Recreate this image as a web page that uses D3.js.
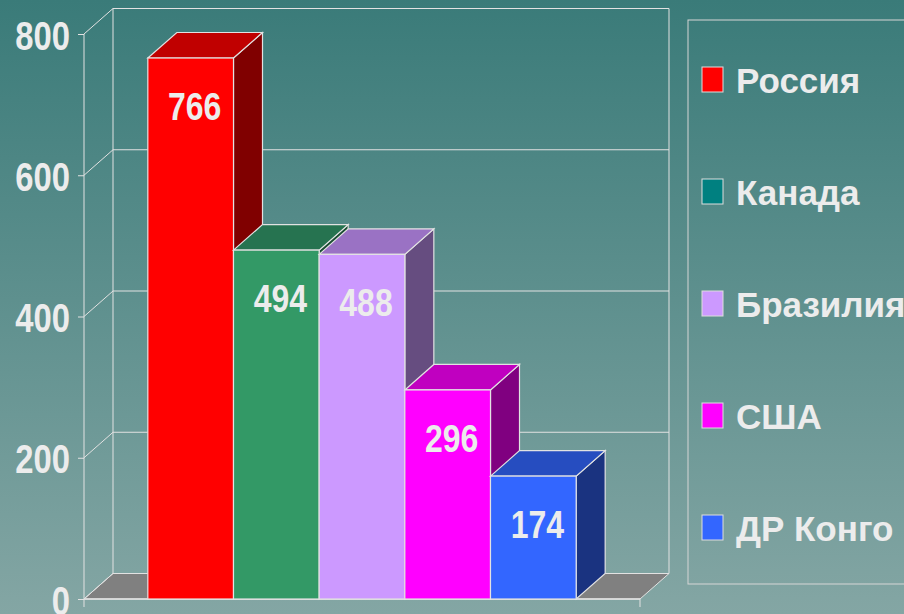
<!DOCTYPE html>
<html>
<head>
<meta charset="utf-8">
<script src="https://cdn.jsdelivr.net/npm/d3@7"></script>
<style>
  body { margin: 0; overflow: hidden; }
  svg { display: block; }
  text { font-family: "Liberation Sans", Arial, sans-serif; font-weight: bold; fill: #ececec; }
</style>
</head>
<body>
<svg id="chart" width="904" height="614"></svg>
<script>
// data
var countries = ["Россия", "Канада", "Бразилия", "США", "ДР Конго"];
var values = [766, 494, 488, 296, 174];
var frontColors = ["#ff0000", "#339966", "#cc99ff", "#ff00ff", "#3366ff"];
var topColors = ["#c00000", "#267350", "#9a72c4", "#c000c0", "#264dc0"];
var sideColors = ["#800000", "#1a4d33", "#664d80", "#800080", "#1a3380"];
var legendColors = ["#ff0000", "#008080", "#cc99ff", "#ff00ff", "#3366ff"];
var yTicks = [0, 200, 400, 600, 800];

var svg = d3.select("#chart");
var lineColor = "#e2e2e2";

// depth of the 3d effect, and horizontal squeeze to fake a narrow font
var dx = 29, dy = -25.5;
var squeeze = 0.82;

var y = d3.scaleLinear().domain([0, 800]).range([599, 34]);
var x = d3.scaleBand()
          .domain(countries)
          .range([84, 640])
          .paddingInner(0)
          .paddingOuter(0.745);

// background gradient
var grad = svg.append("defs").append("linearGradient")
              .attr("id", "bg")
              .attr("x1", 0).attr("y1", 0).attr("x2", 0).attr("y2", 1);
grad.append("stop").attr("offset", "0%").attr("stop-color", "#3a7b79");
grad.append("stop").attr("offset", "100%").attr("stop-color", "#84a6a4");

svg.append("rect")
   .attr("width", 904).attr("height", 614)
   .attr("fill", "url(#bg)");

var x0 = x.range()[0], x1 = x.range()[1];

// floor
svg.append("polygon")
   .attr("points", [[x0, y(0)], [x0 + dx, y(0) + dy], [x1 + dx, y(0) + dy], [x1, y(0)]].join(" "))
   .attr("fill", "#808080")
   .attr("stroke", lineColor);

// back wall grid
var grid = svg.append("g").attr("stroke", lineColor).attr("fill", "none");
grid.selectAll("line.back")
    .data(yTicks)
    .enter()
    .append("line")
    .attr("class", "back")
    .attr("x1", x0 + dx).attr("x2", x1 + dx)
    .attr("y1", function(d) { return y(d) + dy; })
    .attr("y2", function(d) { return y(d) + dy; });
grid.selectAll("line.diag")
    .data(yTicks)
    .enter()
    .append("line")
    .attr("class", "diag")
    .attr("x1", x0).attr("x2", x0 + dx)
    .attr("y1", function(d) { return y(d); })
    .attr("y2", function(d) { return y(d) + dy; });
grid.append("line")
    .attr("x1", x0 + dx).attr("x2", x0 + dx)
    .attr("y1", y(800) + dy).attr("y2", y(0) + dy);
grid.append("line")
    .attr("x1", x1 + dx).attr("x2", x1 + dx)
    .attr("y1", y(800) + dy).attr("y2", y(0) + dy);

// y axis
var yAxis = svg.append("g")
               .attr("transform", "translate(" + x0 + ",0)")
               .call(d3.axisLeft(y).tickValues(yTicks).tickSize(6));
yAxis.select(".domain").attr("stroke", lineColor).attr("d", "M0," + y(800) + "V" + (y(0) + 8));
yAxis.selectAll(".tick line").attr("stroke", lineColor);
yAxis.selectAll(".tick text")
     .attr("fill", "#ececec")
     .attr("font-size", 40)
     .attr("font-family", "Liberation Sans, Arial, sans-serif")
     .attr("x", -14 / squeeze)
     .attr("dy", "0.38em")
     .attr("transform", "scale(" + squeeze + ",1)");

// baseline and the end tick
svg.append("line")
   .attr("x1", x0).attr("x2", x1)
   .attr("y1", y(0)).attr("y2", y(0))
   .attr("stroke", lineColor).attr("stroke-width", 1.5);
svg.append("line")
   .attr("x1", x1).attr("x2", x1)
   .attr("y1", y(0)).attr("y2", y(0) + 8)
   .attr("stroke", lineColor);

// bars
var bw = x.bandwidth();
var bars = svg.selectAll("g.bar")
              .data(countries)
              .enter()
              .append("g")
              .attr("class", "bar")
              .attr("stroke", lineColor)
              .attr("stroke-width", 1.2);

bars.append("polygon")
    .attr("fill", function(d, i) { return sideColors[i]; })
    .attr("points", function(d, i) {
      var l = x(d) + bw, t = y(values[i]), b = y(0);
      return [[l, t], [l + dx, t + dy], [l + dx, b + dy], [l, b]].join(" ");
    });
bars.append("polygon")
    .attr("fill", function(d, i) { return topColors[i]; })
    .attr("points", function(d, i) {
      var l = x(d), t = y(values[i]);
      return [[l, t], [l + dx, t + dy], [l + bw + dx, t + dy], [l + bw, t]].join(" ");
    });
bars.append("rect")
    .attr("fill", function(d, i) { return frontColors[i]; })
    .attr("x", function(d) { return x(d); })
    .attr("y", function(d, i) { return y(values[i]); })
    .attr("width", bw)
    .attr("height", function(d, i) { return y(0) - y(values[i]); });

// value labels
svg.selectAll("text.value")
   .data(countries)
   .enter()
   .append("text")
   .attr("class", "value")
   .attr("text-anchor", "middle")
   .attr("font-size", 39)
   .attr("transform", function(d, i) {
     return "translate(" + (x(d) + bw / 2 + 4) + "," + (y(values[i]) + 62) + ") scale(" + squeeze + ",1)";
   })
   .text(function(d, i) { return values[i]; });

// legend
var legend = svg.append("g");
legend.append("rect")
      .attr("x", 688).attr("y", 20)
      .attr("width", 240).attr("height", 564)
      .attr("fill", "none")
      .attr("stroke", "#d6d6d6");

var items = legend.selectAll("g.item")
                  .data(countries)
                  .enter()
                  .append("g")
                  .attr("class", "item")
                  .attr("transform", function(d, i) { return "translate(0," + (93 + 112 * i) + ")"; });
items.append("rect")
     .attr("x", 702).attr("y", -26)
     .attr("width", 21).attr("height", 25)
     .attr("fill", function(d, i) { return legendColors[i]; })
     .attr("stroke", "#dddddd");
items.append("text")
     .attr("x", 736)
     .attr("font-size", 35)
     .text(function(d) { return d; });
</script>
</body>
</html>
